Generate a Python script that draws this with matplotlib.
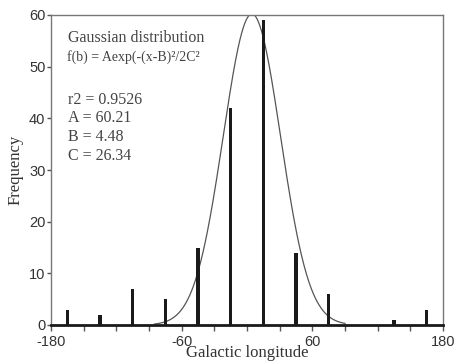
import numpy as np
import matplotlib
matplotlib.use('Agg')
import matplotlib.pyplot as plt

plt.rcParams['axes.unicode_minus'] = False

# binned galactic longitudes (bin centres) and counts
centers = [-165, -135, -105, -75, -45, -15, 15, 45, 75, 105, 135, 165]
counts = [3, 2, 7, 5, 15, 42, 59, 14, 6, 0, 1, 3]

# gaussian fit parameters
A = 60.21
B = 4.48
C = 26.34
r2 = 0.9526

fig = plt.figure(figsize=(4.54, 3.62), dpi=100)
ax = fig.add_axes([51/454, 1 - 325/362, 392/454, 310/362])

ax.bar(centers, counts, width=2.8, color='#1a1a1a', zorder=3)

xs = np.linspace(-85, 90, 400)
ax.plot(xs, A * np.exp(-(xs - B)**2 / (2 * C**2)), color='#555555', lw=0.9, zorder=2)

ax.set_xlim(-180, 180)
ax.set_ylim(0, 60)
ax.set_xticks([-180, -60, 60, 180])
ax.set_xticks(np.arange(-150, 180, 30), minor=True)
ax.set_yticks(range(0, 61, 10))

for s in ['top', 'right', 'left']:
    ax.spines[s].set_color('#777777')
    ax.spines[s].set_linewidth(1.0)
ax.spines['bottom'].set_color('#1a1a1a')
ax.spines['bottom'].set_linewidth(2.0)

ax.tick_params(axis='both', which='both', direction='out', color='#555555',
               labelcolor='#333333', labelsize=10.5)
ax.tick_params(axis='x', which='both', length=4, width=1, pad=3)
ax.tick_params(axis='y', length=3, width=1, pad=1)
for lab in ax.get_xticklabels() + ax.get_yticklabels():
    lab.set_family('Liberation Sans')

ser = 'Liberation Serif'
ax.set_ylabel('Frequency', family=ser, fontsize=12, color='#333333', labelpad=4)
ax.set_xlabel('Galactic longitude', family=ser, fontsize=12, color='#333333', labelpad=-3)

tc = '#444444'
ax.text(-164, 55.6, 'Gaussian distribution', family=ser, fontsize=11.5, color=tc, va='center')
ax.text(-165, 51.8, 'f(b) = Aexp(-(x-B)²/2C²', family=ser, fontsize=10, color=tc, va='center')
ax.text(-164, 43.6, 'r2 = %.4f' % r2, family=ser, fontsize=11.5, color=tc, va='center')
ax.text(-164, 40.0, 'A = %.2f' % A, family=ser, fontsize=11.5, color=tc, va='center')
ax.text(-164, 36.4, 'B = %.2f' % B, family=ser, fontsize=11.5, color=tc, va='center')
ax.text(-164, 32.8, 'C = %.2f' % C, family=ser, fontsize=11.5, color=tc, va='center')

fig.savefig('out.png', dpi=100)
